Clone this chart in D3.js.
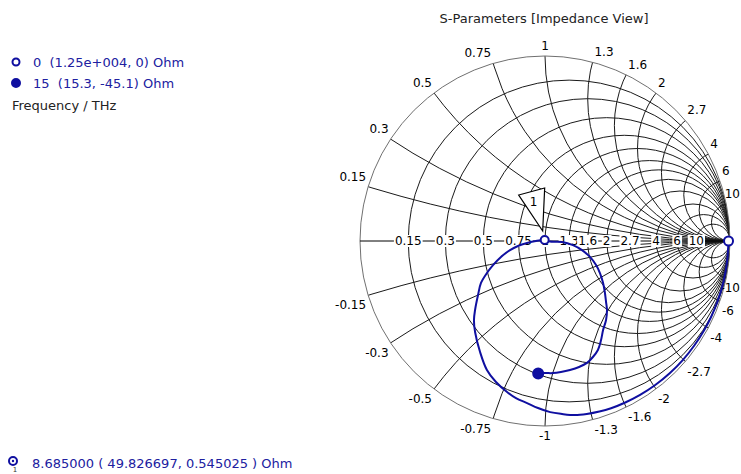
<!DOCTYPE html>
<html>
<head>
<meta charset="utf-8">
<script src="https://cdn.jsdelivr.net/npm/d3@7"></script>
<style>
  body { margin: 0; background: #fff; }
  svg { display: block; font-family: "DejaVu Sans", Verdana, sans-serif; font-size: 12px; }
  .big { font-size: 13px; }
</style>
</head>
<body>
<svg id="chart" width="741" height="474"></svg>
<script>
// Smith chart grid values (normalised r and x)
const gridValues = [0.15, 0.3, 0.5, 0.75, 1, 1.3, 1.6, 2, 2.7, 4, 6, 10];

// S11 trace (reflection coefficient)
const s11Re = [0.992, 0.984, 0.964, 0.932, 0.899, 0.861, 0.807, 0.747, 0.674, 0.594,
  0.514, 0.434, 0.357, 0.294, 0.226, 0.162, 0.092, 0.028, -0.038, -0.097,
  -0.157, -0.205, -0.265, -0.314, -0.351, -0.378, -0.384, -0.378, -0.362, -0.346,
  -0.314, -0.281, -0.238, -0.189, -0.146, -0.097, -0.049, -0.002, 0.027, 0.092,
  0.151, 0.200, 0.243, 0.276, 0.297, 0.314, 0.324, 0.330, 0.335, 0.330,
  0.314, 0.303, 0.286, 0.259, 0.227, 0.184, 0.135, 0.086, 0.043, 0.000, -0.037];
const s11Im = [0, -0.112, -0.224, -0.328, -0.408, -0.481, -0.565, -0.641, -0.715, -0.780,
  -0.832, -0.873, -0.904, -0.922, -0.935, -0.941, -0.935, -0.925, -0.903, -0.876,
  -0.849, -0.816, -0.762, -0.697, -0.600, -0.492, -0.427, -0.373, -0.292, -0.227,
  -0.173, -0.130, -0.086, -0.049, -0.027, -0.011, 0.000, 0.005, -0.003, -0.005,
  -0.022, -0.049, -0.086, -0.130, -0.173, -0.227, -0.281, -0.330, -0.373, -0.427,
  -0.481, -0.535, -0.589, -0.627, -0.659, -0.681, -0.697, -0.708, -0.714, -0.714, -0.716];

// start / end markers (frequency in THz, impedance in Ohm)
const markerFreq = [0, 15];
const markerR = [12500, 15.3];
const markerX = [0, -45.1];
const markerFilled = [false, true];

// flag marker "1"
const flagName = "1";
const flagFreq = 8.685;
const flagR = 49.826697;
const flagX = 0.545025;

const z0 = 50;

const svg = d3.select("#chart");
const blue = "#0f0fa0";
const W = 741;

const x = d3.scaleLinear().domain([-1, 1]).range([360, 730]);
const y = d3.scaleLinear().domain([-1, 1]).range([426, 56]);
const unit = x(1) - x(0);

// reflection coefficient of a normalised impedance r + jx
function gammaOf(r, xv) {
    const a = r - 1, b = xv, c = r + 1, d = xv;
    const den = c * c + d * d;
    return [(a * c + b * d) / den, (b * c - a * d) / den];
}

function fmtOhm(v) {
    if (Math.abs(v) >= 1000) {
        const [m, e] = v.toExponential(2).split("e");
        return m + "e" + e[0] + e.slice(1).padStart(3, "0");
    }
    return String(v);
}

svg.append("defs").append("clipPath").attr("id", "disc")
    .append("circle").attr("cx", x(0)).attr("cy", y(0)).attr("r", unit);

// Grid
const grid = svg.append("g")
    .attr("clip-path", "url(#disc)")
    .attr("fill", "none")
    .attr("stroke", "#1a1a1a")
    .attr("stroke-width", 1);

grid.selectAll(".rc").data(gridValues).join("circle")
    .attr("class", "rc")
    .attr("cx", r => x(r / (r + 1)))
    .attr("cy", y(0))
    .attr("r", r => unit / (r + 1));

const reactValues = gridValues.flatMap(v => [v, -v]);
grid.selectAll(".xc").data(reactValues).join("circle")
    .attr("class", "xc")
    .attr("cx", x(1))
    .attr("cy", v => y(1 / v))
    .attr("r", v => unit / Math.abs(v));

// outer circle
svg.append("circle")
    .attr("cx", x(0)).attr("cy", y(0)).attr("r", unit)
    .attr("fill", "none").attr("stroke", "#707070").attr("stroke-width", 1);

// real axis
svg.append("line")
    .attr("x1", x(-1)).attr("x2", x(1))
    .attr("y1", y(0)).attr("y2", y(0))
    .attr("stroke", "#000").attr("stroke-width", 1);

// reactance labels round the edge
reactValues.forEach(v => {
    const g = gammaOf(0, v);
    const px = x(g[0]), py = y(g[1]);
    let anchor = "middle", tx = px;
    if (Math.abs(v) < 1) { anchor = "end"; tx = px - 2; }
    if (Math.abs(v) > 1) { anchor = "start"; tx = px + 2; }
    const t = svg.append("text")
        .attr("x", tx)
        .attr("y", v > 0 ? py - 10 : py + 10)
        .attr("text-anchor", anchor)
        .attr("dominant-baseline", "central")
        .attr("fill", "#000")
        .text(v);
    // keep the right-most labels inside the picture
    const bb = t.node().getBBox();
    if (bb.x + bb.width > W - 1) t.attr("x", W - 1 - bb.width);
});

// resistance labels on the real axis, white boxes behind
gridValues.forEach(r => {
    const px = x((r - 1) / (r + 1));
    const grp = svg.append("g");
    const rect = grp.append("rect").attr("fill", "#fff");
    const t = grp.append("text")
        .attr("x", px).attr("y", y(0))
        .attr("text-anchor", "middle")
        .attr("dominant-baseline", "central")
        .attr("fill", "#000")
        .text(r);
    const bb = t.node().getBBox();
    rect.attr("x", bb.x - 1).attr("y", bb.y + 1)
        .attr("width", bb.width + 2).attr("height", bb.height - 2);
});

// Trace
const line = d3.line()
    .x(i => x(s11Re[i]))
    .y(i => y(s11Im[i]))
    .curve(d3.curveCatmullRom.alpha(0.5));

svg.append("path")
    .datum(d3.range(s11Re.length))
    .attr("d", line)
    .attr("fill", "none")
    .attr("stroke", blue)
    .attr("stroke-width", 2);

// start / end markers
markerFreq.forEach((f, i) => {
    const g = gammaOf(markerR[i] / z0, markerX[i] / z0);
    svg.append("circle")
        .attr("cx", x(g[0])).attr("cy", y(g[1]))
        .attr("r", markerFilled[i] ? 5 : 4.5)
        .attr("fill", markerFilled[i] ? blue : "#fff")
        .attr("stroke", blue).attr("stroke-width", 2);
});

// flag marker
const fg = gammaOf(flagR / z0, flagX / z0);
const fx = x(fg[0]), fy = y(fg[1]);
svg.append("path")
    .attr("d", `M${fx - 2},${fy - 9}L${fx - 26},${fy - 45}L${fx},${fy - 52}Z`)
    .attr("fill", "#fff").attr("stroke", "#000").attr("stroke-width", 1.2)
    .attr("stroke-linejoin", "miter");
svg.append("text")
    .attr("x", fx - 11).attr("y", fy - 38)
    .attr("text-anchor", "middle").attr("dominant-baseline", "central")
    .attr("fill", "#000")
    .text(flagName);
svg.append("circle")
    .attr("cx", fx).attr("cy", fy).attr("r", 4)
    .attr("fill", "#fff").attr("stroke", blue).attr("stroke-width", 2);

// Title
svg.append("text")
    .attr("class", "big")
    .attr("x", 544).attr("y", 18)
    .attr("text-anchor", "middle").attr("dominant-baseline", "central")
    .attr("fill", "#222")
    .text("S-Parameters [Impedance View]");

// Legend
markerFreq.forEach((f, i) => {
    const ly = 62 + i * 21;
    svg.append("circle")
        .attr("cx", 16).attr("cy", ly).attr("r", markerFilled[i] ? 4 : 3.5)
        .attr("fill", markerFilled[i] ? blue : "#fff")
        .attr("stroke", blue).attr("stroke-width", 2);
    svg.append("text")
        .attr("class", "big")
        .attr("x", 33).attr("y", ly)
        .attr("dominant-baseline", "central")
        .attr("fill", "#2020a0")
        .style("white-space", "pre")
        .text(`${f}  (${fmtOhm(markerR[i])}, ${fmtOhm(markerX[i])}) Ohm`);
});
svg.append("text")
    .attr("class", "big")
    .attr("x", 12).attr("y", 105)
    .attr("dominant-baseline", "central")
    .attr("fill", "#222")
    .text("Frequency / THz");

// flag readout at the bottom
svg.append("circle")
    .attr("cx", 13).attr("cy", 461).attr("r", 4)
    .attr("fill", "#fff").attr("stroke", blue).attr("stroke-width", 2);
svg.append("circle")
    .attr("cx", 13).attr("cy", 461).attr("r", 1.2)
    .attr("fill", blue);
svg.append("text")
    .attr("x", 15).attr("y", 470)
    .attr("text-anchor", "middle").attr("dominant-baseline", "central")
    .attr("fill", "#333").style("font-size", "7px")
    .text(flagName);
svg.append("text")
    .attr("class", "big")
    .attr("x", 32).attr("y", 463)
    .attr("dominant-baseline", "central")
    .attr("fill", "#2020a0")
    .style("white-space", "pre")
    .text(`${flagFreq.toFixed(6)} ( ${flagR.toFixed(6)}, ${flagX.toFixed(6)} ) Ohm`);
</script>
</body>
</html>
